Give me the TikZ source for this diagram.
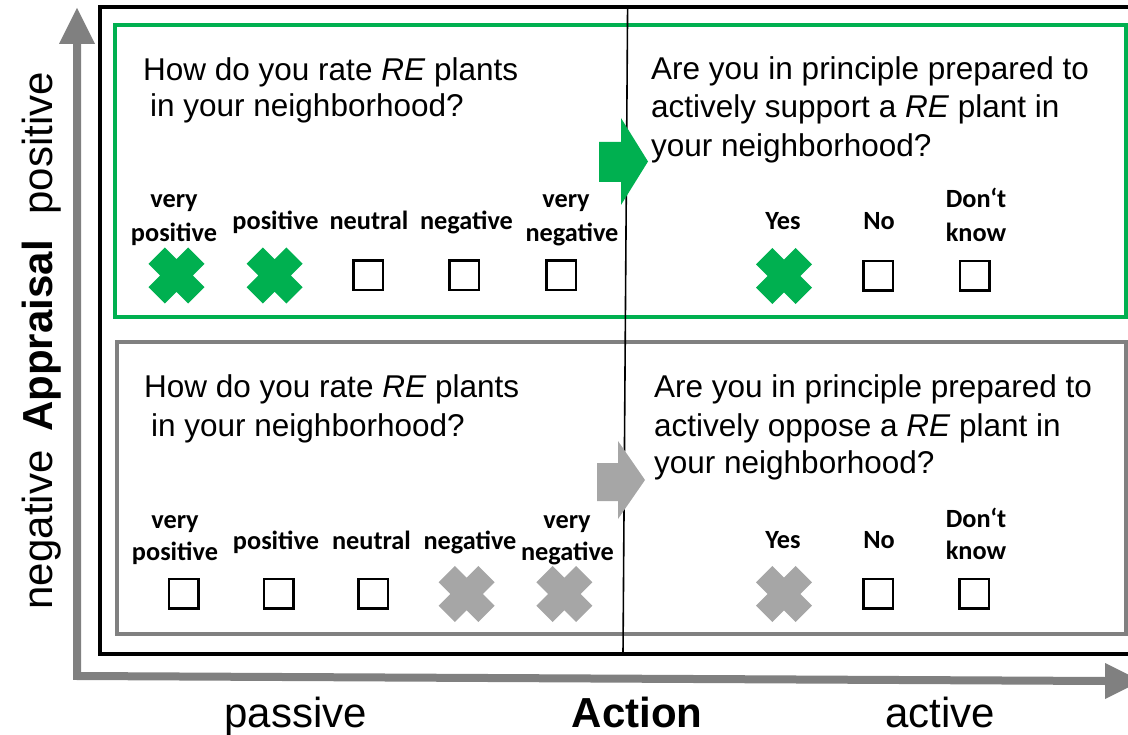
\documentclass[tikz,border=0pt]{standalone}
\usepackage{fontspec}
\setmainfont{Liberation Sans}
\newfontfamily\calib{Carlito}
\definecolor{xgreen}{HTML}{00B050}
\definecolor{xgray}{HTML}{808080}
\definecolor{xlight}{HTML}{A6A6A6}
\tikzset{
  qtext/.style={font=\fontsize{31.5}{38}\selectfont, inner sep=0pt, anchor=base west},
  lab/.style={font=\calib\bfseries\fontsize{26.3}{31}\selectfont, inner sep=0pt, anchor=base},
  axlab/.style={font=\fontsize{42}{50}\selectfont, inner sep=0pt, anchor=base},
  cbox/.style={draw=black, line width=2.5pt, minimum size=29.5pt, inner sep=0pt},
  axisline/.style={draw=xgray, line width=8pt, line join=miter},
  pics/xcross/.style={code={
    \fill[#1, rotate=45] (-28.1,-11.5) rectangle (28.1,11.5) (-11.5,-28.1) rectangle (11.5,28.1);}}
}
\begin{document}
\begin{tikzpicture}[x=1pt,y=-1pt]
\useasboundingbox (0,0) rectangle (1128,735);
\clip (0,0) rectangle (1128,735);
% axes
\coordinate (vtop) at (77,44);
\coordinate (corner) at (77,676);
\coordinate (hend) at (1105,681);
\draw[axisline] (vtop) -- (corner) -- (hend);
\fill[xgray] (59,44) -- (77,8) -- (95,44) -- cycle;
\fill[xgray] (1105,663) -- (1141,681) -- (1105,699) -- cycle;
% frames
\draw[black, line width=4pt] (1140,7) -- (100,7) -- (100,654) -- (1140,654);
\draw[xgreen, line width=3.5pt] (115,25) rectangle (1126,317);
\draw[xgray, line width=3.5pt] (117,342) rectangle (1126,634);
\draw[black, line width=1.6pt] (627.6,7) -- (623,654);
% block arrows
\fill[xgreen] (599,142) -- (621,142) -- (621,118) -- (648,161.5) -- (621,205) -- (621,182) -- (599,182) -- cycle;
\fill[xlight] (597,463) -- (618,463) -- (618,441) -- (645,480) -- (618,519) -- (618,501) -- (597,501) -- cycle;
% questions top
\node[qtext] (qa1) at (143,81) {How do you rate \textit{RE} plants};
\node[qtext] (qa2) at (150,117) {in your neighborhood?};
\node[qtext] (qb1) at (651,80) {Are you in principle prepared to};
\node[qtext] (qb2) at (651,118) {actively support a \textit{RE} plant in};
\node[qtext] (qb3) at (651,157) {your neighborhood?};
% questions bottom
\node[qtext] (qc1) at (144,398) {How do you rate \textit{RE} plants};
\node[qtext] (qc2) at (151,436) {in your neighborhood?};
\node[qtext] (qd1) at (654,398) {Are you in principle prepared to};
\node[qtext] (qd2) at (654,436) {actively oppose a \textit{RE} plant in};
\node[qtext] (qd3) at (654,473) {your neighborhood?};
% labels top
\node[lab] (t1a) at (174,208) {very};
\node[lab] (t1b) at (174,242) {positive};
\node[lab] (t2) at (275.5,230) {positive};
\node[lab] (t3) at (369,230) {neutral};
\node[lab] (t4) at (466.5,230) {negative};
\node[lab] (t5a) at (566,208) {very};
\node[lab] (t5b) at (572,242) {negative};
\node[lab] (ty) at (783,230) {Yes};
\node[lab] (tn) at (879,230) {No};
\node[lab] (tda) at (976,208) {Don‘t};
\node[lab] (tdb) at (976,242) {know};
% marks top
\pic at (176.5,275.5) {xcross=xgreen};
\pic at (274.7,275.5) {xcross=xgreen};
\node[cbox] (tb3) at (368,275.5) {};
\node[cbox] (tb4) at (464,275.5) {};
\node[cbox] (tb5) at (561,275.5) {};
\pic at (784,276) {xcross=xgreen};
\node[cbox] (tbn) at (878,276) {};
\node[cbox] (tbd) at (974.5,276) {};
% labels bottom
\node[lab] (b1a) at (175,528) {very};
\node[lab] (b1b) at (175,560) {positive};
\node[lab] (b2) at (276,549) {positive};
\node[lab] (b3) at (371.5,549) {neutral};
\node[lab] (b4) at (470,549) {negative};
\node[lab] (b5a) at (567,528) {very};
\node[lab] (b5b) at (567.5,560) {negative};
\node[lab] (by) at (783,548) {Yes};
\node[lab] (bn) at (879,548) {No};
\node[lab] (bda) at (976,527) {Don‘t};
\node[lab] (bdb) at (976,559) {know};
% marks bottom
\node[cbox] (bb1) at (183.5,593.5) {};
\node[cbox] (bb2) at (278.6,593.5) {};
\node[cbox] (bb3) at (373.4,593.5) {};
\pic at (466.6,594) {xcross=xlight};
\pic at (564.3,594) {xcross=xlight};
\pic at (784,594) {xcross=xlight};
\node[cbox] (bbn) at (878,593.5) {};
\node[cbox] (bbd) at (974,593.5) {};
% axis labels
\node[axlab] (passive) at (295.6,727) {passive};
\node[axlab, font=\bfseries\fontsize{42}{50}\selectfont] (action) at (637,727) {Action};
\node[axlab] (active) at (940,727) {active};
\node[axlab, rotate=90] (pos) at (52,143.5) {positive};
\node[axlab, rotate=90, font=\bfseries\fontsize{42}{50}\selectfont] (appr) at (52,336) {Appraisal};
\node[axlab, rotate=90] (neg) at (52,530) {negative};
\end{tikzpicture}
\end{document}
